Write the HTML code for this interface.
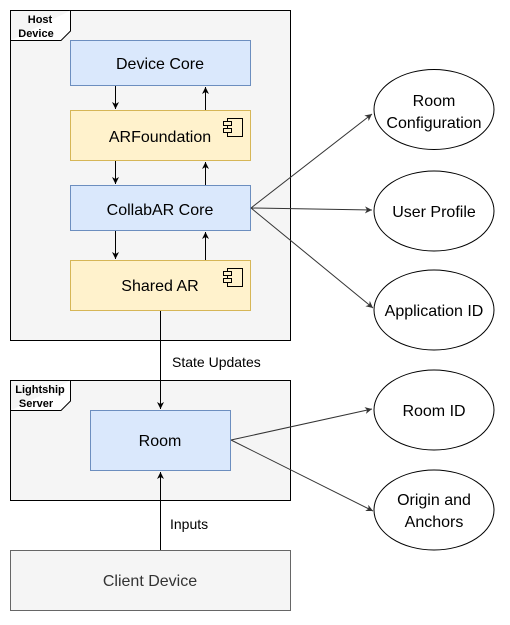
<!DOCTYPE html>
<html><head><meta charset="utf-8"><style>
html,body{margin:0;padding:0;background:#fff;}
text{font-family:"Liberation Sans",Arial,sans-serif !important;}
</style></head><body>
<svg width="510" height="620" viewBox="0 0 510 620" xmlns="http://www.w3.org/2000/svg" font-family="Liberation Sans, Arial, sans-serif">
<defs>
<marker id="a" markerWidth="8" markerHeight="8" refX="7" refY="4" orient="auto" markerUnits="userSpaceOnUse">
<path d="M0,0.5 L7,4 L0,7.5 L2,4 Z" fill="#000"/></marker>
<marker id="g" markerWidth="8" markerHeight="8" refX="7" refY="4" orient="auto" markerUnits="userSpaceOnUse">
<path d="M0,0.5 L7,4 L0,7.5 L2,4 Z" fill="#333"/></marker>
</defs>
<!-- Host frame -->
<rect x="10.5" y="10.5" width="280" height="330" fill="#f5f5f5" stroke="#000"/>
<path d="M10.5,40.5 H61 L70.5,31 V10.5" fill="#fff" stroke="#000"/>
<text x="40" y="23" font-size="11" font-weight="bold" text-anchor="middle">Host</text>
<text x="36" y="37" font-size="11" font-weight="bold" text-anchor="middle">Device</text>
<!-- boxes -->
<rect x="70.5" y="40.5" width="180" height="45" fill="#dae8fc" stroke="#6c8ebf"/>
<text x="160" y="69" font-size="16" text-anchor="middle">Device Core</text>
<rect x="70.5" y="110.5" width="180" height="50" fill="#fff2cc" stroke="#d6b656"/>
<text x="160" y="142" font-size="16" text-anchor="middle">ARFoundation</text>
<g fill="none" stroke="#000"><rect x="227.5" y="118.5" width="15" height="18"/><rect x="223.5" y="121.5" width="8" height="4" fill="#fff2cc"/><rect x="223.5" y="128.5" width="8" height="4" fill="#fff2cc"/></g>
<rect x="70.5" y="185.5" width="180" height="45" fill="#dae8fc" stroke="#6c8ebf"/>
<text x="160" y="215" font-size="16" text-anchor="middle">CollabAR Core</text>
<rect x="70.5" y="260.5" width="180" height="50" fill="#fff2cc" stroke="#d6b656"/>
<text x="160" y="291" font-size="16" text-anchor="middle">Shared AR</text>
<g fill="none" stroke="#000"><rect x="227.5" y="268.5" width="15" height="18"/><rect x="223.5" y="271.5" width="8" height="4" fill="#fff2cc"/><rect x="223.5" y="278.5" width="8" height="4" fill="#fff2cc"/></g>
<!-- Lightship frame -->
<rect x="10.5" y="380.5" width="280" height="120" fill="#f5f5f5" stroke="#000"/>
<path d="M10.5,410.5 H61 L70.5,401 V380.5" fill="#fff" stroke="#000"/>
<text x="40" y="393" font-size="11" font-weight="bold" text-anchor="middle">Lightship</text>
<text x="36" y="407" font-size="11" font-weight="bold" text-anchor="middle">Server</text>
<rect x="90.5" y="410.5" width="140" height="60" fill="#dae8fc" stroke="#6c8ebf"/>
<text x="160" y="446" font-size="16" text-anchor="middle">Room</text>
<rect x="10.5" y="550.5" width="280" height="60" fill="#f5f5f5" stroke="#666"/>
<text x="150" y="586" font-size="16" fill="#333" text-anchor="middle">Client Device</text>
<!-- vertical arrows -->
<g stroke="#000" stroke-width="1">
<line x1="115.5" y1="86" x2="115.5" y2="109" marker-end="url(#a)"/>
<line x1="205.5" y1="110" x2="205.5" y2="87" marker-end="url(#a)"/>
<line x1="115.5" y1="161" x2="115.5" y2="184" marker-end="url(#a)"/>
<line x1="205.5" y1="185" x2="205.5" y2="162" marker-end="url(#a)"/>
<line x1="115.5" y1="231" x2="115.5" y2="259" marker-end="url(#a)"/>
<line x1="205.5" y1="260" x2="205.5" y2="232" marker-end="url(#a)"/>
<line x1="160.5" y1="311" x2="160.5" y2="409" marker-end="url(#a)"/>
<line x1="160.5" y1="550" x2="160.5" y2="472" marker-end="url(#a)"/>
</g>
<text x="172" y="367" font-size="14">State Updates</text>
<text x="170" y="529" font-size="14">Inputs</text>
<!-- connectors -->
<g stroke="#333" stroke-width="1" fill="none">
<line x1="251" y1="208" x2="372" y2="114" marker-end="url(#g)"/>
<line x1="251" y1="208" x2="372" y2="210" marker-end="url(#g)"/>
<line x1="251" y1="208" x2="373" y2="308" marker-end="url(#g)"/>
<line x1="231" y1="440" x2="372" y2="409" marker-end="url(#g)"/>
<line x1="231" y1="440" x2="373" y2="511" marker-end="url(#g)"/>
</g>
<!-- ellipses -->
<g fill="#fff" stroke="#000">
<ellipse cx="434" cy="109.5" rx="60" ry="40"/>
<ellipse cx="434" cy="211" rx="60" ry="40"/>
<ellipse cx="434" cy="310" rx="60" ry="40"/>
<ellipse cx="434" cy="410" rx="60" ry="40"/>
<ellipse cx="434" cy="510" rx="60" ry="40"/>
</g>
<g font-size="16" text-anchor="middle">
<text x="434" y="106">Room</text>
<text x="434" y="128">Configuration</text>
<text x="434" y="217">User Profile</text>
<text x="434" y="316">Application ID</text>
<text x="434" y="416">Room ID</text>
<text x="434" y="505">Origin and</text>
<text x="434" y="527">Anchors</text>
</g>
</svg>
</body></html>
